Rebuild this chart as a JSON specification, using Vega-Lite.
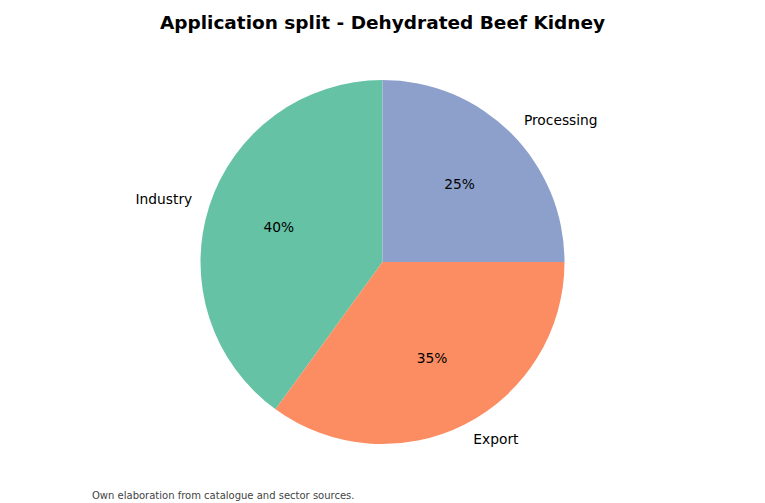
{
  "$schema": "https://vega.github.io/schema/vega-lite/v6.json",
  "padding": {"top": 13, "left": 0, "right": 0, "bottom": 0},
  "background": "white",
  "title": {
    "text": "Application split - Dehydrated Beef Kidney",
    "font": "DejaVu Sans",
    "fontSize": 18.5,
    "fontWeight": "bold",
    "color": "black",
    "anchor": "middle",
    "offset": 20
  },
  "data": {
    "values": [
      {"category": "Industry", "share": 0.40},
      {"category": "Export", "share": 0.35},
      {"category": "Processing", "share": 0.25}
    ]
  },
  "vconcat": [
    {
      "width": 765,
      "height": 420,
      "title": {
        "text": "Own elaboration from catalogue and sector sources.",
        "orient": "bottom",
        "anchor": "start",
        "font": "DejaVu Sans",
        "fontSize": 10,
        "fontWeight": "normal",
        "color": "#444444",
        "dx": 92,
        "offset": 19
      },
      "encoding": {
        "theta": {"field": "share", "type": "quantitative", "stack": true},
        "order": {"field": "share", "sort": "ascending"}
      },
      "layer": [
        {
          "mark": {"type": "arc", "outerRadius": 182},
          "encoding": {
            "color": {
              "field": "category",
              "type": "nominal",
              "scale": {
                "domain": ["Industry", "Export", "Processing"],
                "range": ["#66c2a5", "#fc8d62", "#8da0cb"]
              },
              "legend": null
            }
          }
        },
        {
          "mark": {
            "type": "text",
            "radius": 109,
            "font": "DejaVu Sans",
            "fontSize": 13.8,
            "color": "black",
            "align": "center",
            "baseline": "middle"
          },
          "encoding": {
            "text": {"field": "share", "type": "quantitative", "format": ".0%"}
          }
        },
        {
          "mark": {
            "type": "text",
            "radius": 200,
            "font": "DejaVu Sans",
            "fontSize": 13.8,
            "color": "black",
            "align": {"expr": "(datum.share_start + datum.share_end) / 2 > 0.5 ? 'right' : 'left'"},
            "baseline": "middle"
          },
          "encoding": {
            "text": {"field": "category", "type": "nominal"}
          }
        }
      ]
    }
  ],
  "config": {"view": {"stroke": null}}
}
